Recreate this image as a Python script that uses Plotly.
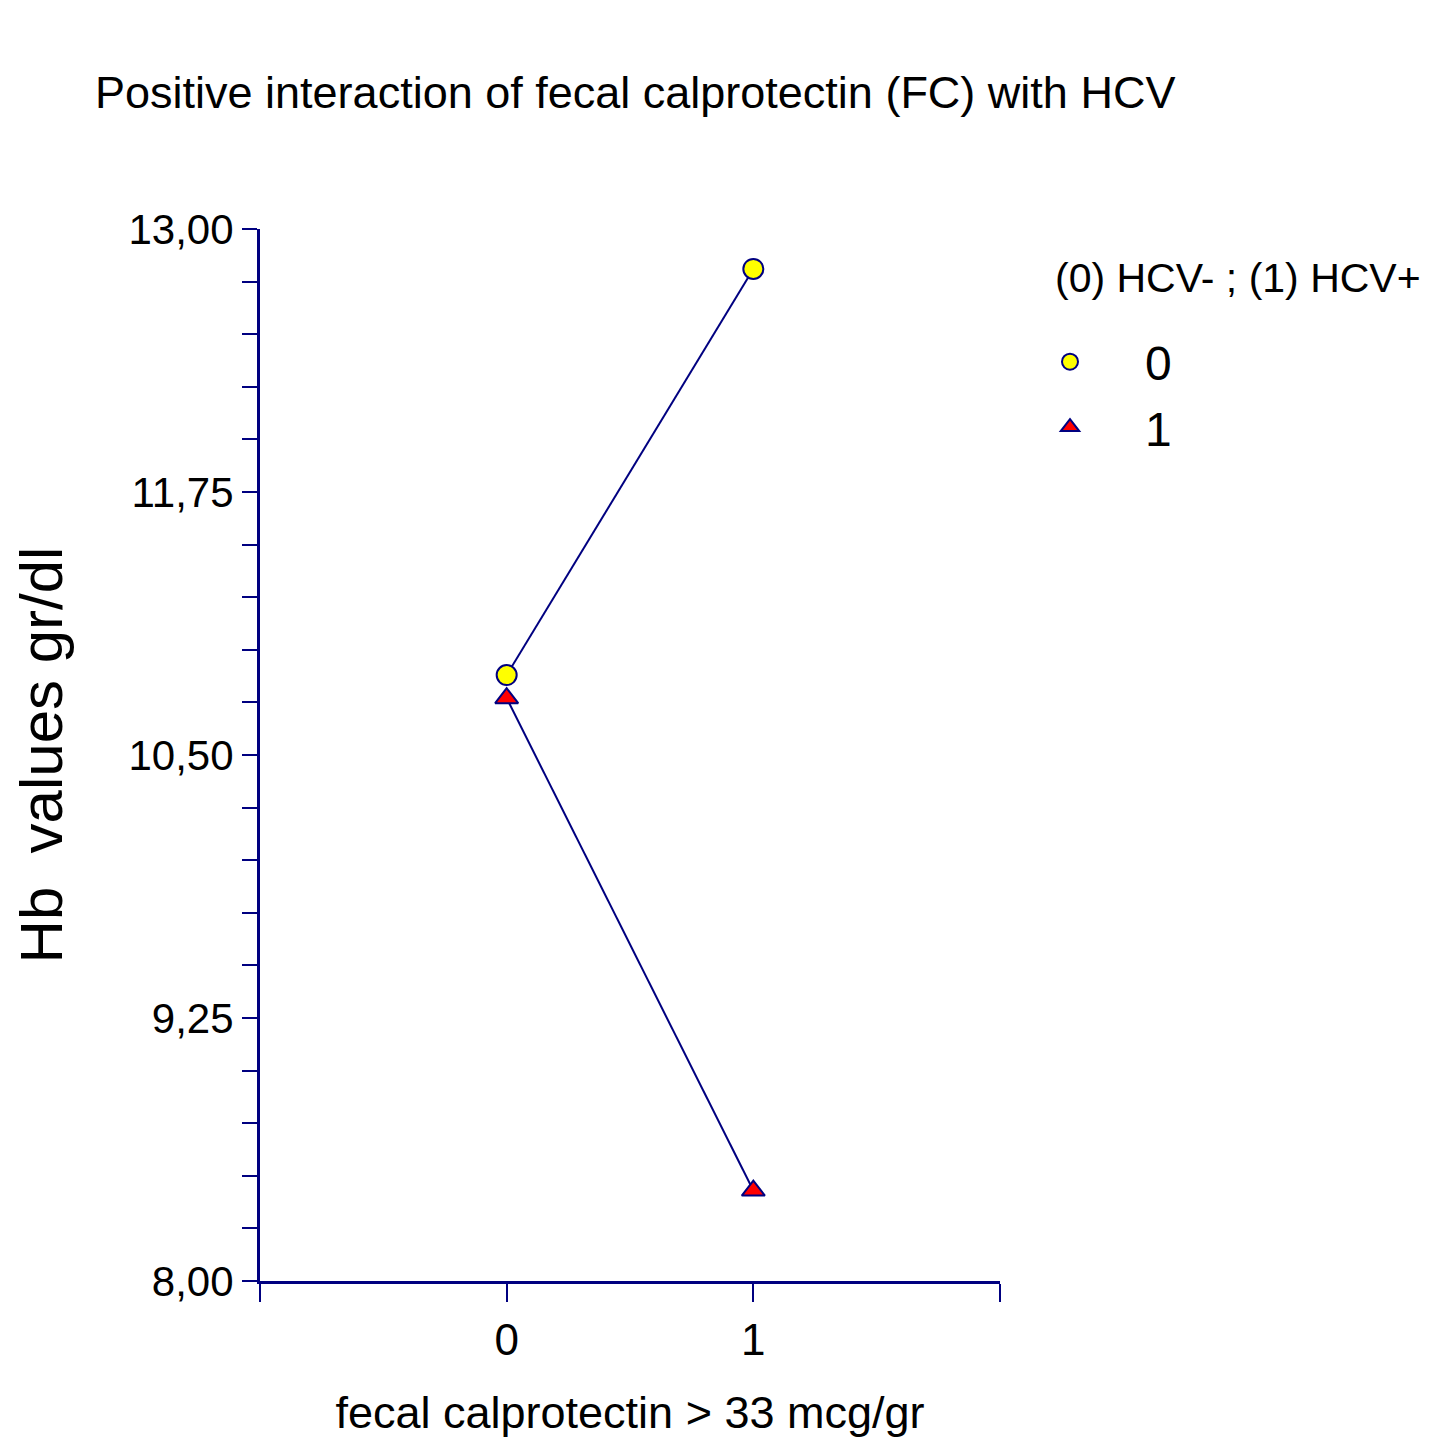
import plotly.graph_objects as go

# ---- data ----
fc_levels = [0, 1]
hb_hcv_neg = [10.88, 12.81]
hb_hcv_pos = [10.77, 8.43]
series_names = ["0", "1"]
legend_title = "(0) HCV- ; (1) HCV+"

x_tick_vals = [-1, 0, 1, 2]
x_tick_text = ["", "0", "1", ""]
y_major = [8.00, 9.25, 10.50, 11.75, 13.00]
y_all = [8.00 + 0.25 * i for i in range(21)]
y_tick_text = [f"{v:.2f}".replace(".", ",") if any(abs(v - m) < 1e-9 for m in y_major) else "" for v in y_all]

NAVY = "#000080"
ARIAL = "Liberation Sans, Arial, sans-serif"

W, H = 1421, 1444  # page body has an 8px margin
OFF = 8

fig = go.Figure()
styles = [
    dict(symbol="circle", size=20, color="#FFFF00", line=dict(color=NAVY, width=2)),
    dict(symbol="triangle-up", size=20, color="#FF0000", line=dict(color=NAVY, width=2)),
]
for name, ys, mk in zip(series_names, [hb_hcv_neg, hb_hcv_pos], styles):
    fig.add_trace(go.Scatter(
        x=fc_levels, y=ys, name=name, mode="lines+markers", showlegend=False,
        line=dict(color=NAVY, width=2), marker=mk,
    ))
# legend-only entries (marker without line, like the reference)
for name, mk in zip(series_names, styles):
    fig.add_trace(go.Scatter(
        x=[None], y=[None], name=name, mode="markers", showlegend=True,
        marker=dict(mk, size=30),
    ))

fig.update_layout(
    width=W, height=H,
    paper_bgcolor="white", plot_bgcolor="white",
    margin=dict(l=260 - OFF, r=W - (1000 - OFF), t=229 - OFF, b=H - (1281 - OFF),
                autoexpand=False),
    title=dict(
        text="Positive interaction of fecal calprotectin (FC) with HCV",
        x=(95 - OFF) / W, xanchor="left", xref="container",
        y=1 - (92 - OFF) / H, yanchor="middle", yref="container",
        font=dict(family=ARIAL, size=45, color="black"),
    ),
    legend=dict(
        font=dict(family=ARIAL, size=48, color="black"),
        xref="container", yref="container",
        x=(995 - OFF) / W, xanchor="left",
        y=1 - (324 - OFF) / H, yanchor="top",
        bgcolor="rgba(0,0,0,0)", itemsizing="trace", itemwidth=140,
    ),
    showlegend=True,
    annotations=[dict(
        text=legend_title, xref="paper", yref="paper",
        x=(1053 - 260) / 740, xanchor="left",
        y=(1281 - 278) / 1052, yanchor="middle",
        showarrow=False, font=dict(family=ARIAL, size=41, color="black"),
    )],
)

fig.update_xaxes(
    range=[-1, 2], showgrid=False, zeroline=False,
    showline=True, linecolor=NAVY, linewidth=3,
    tickmode="array", tickvals=x_tick_vals, ticktext=x_tick_text,
    ticks="outside", ticklen=18, tickwidth=2, tickcolor=NAVY,
    tickfont=dict(family=ARIAL, size=44, color="black"),
    title=dict(text="fecal calprotectin > 33 mcg/gr", standoff=34,
               font=dict(family=ARIAL, size=45, color="black")),
)
fig.update_yaxes(
    range=[8, 13], showgrid=False, zeroline=False,
    showline=True, linecolor=NAVY, linewidth=3,
    tickmode="array", tickvals=y_all, ticktext=y_tick_text,
    ticks="outside", ticklen=15, tickwidth=2, tickcolor=NAVY,
    tickfont=dict(family=ARIAL, size=42, color="black"),
    title=dict(text="Hb  values gr/dl", standoff=55,
               font=dict(family=ARIAL, size=60, color="black")),
)

fig.write_html("out.html")
